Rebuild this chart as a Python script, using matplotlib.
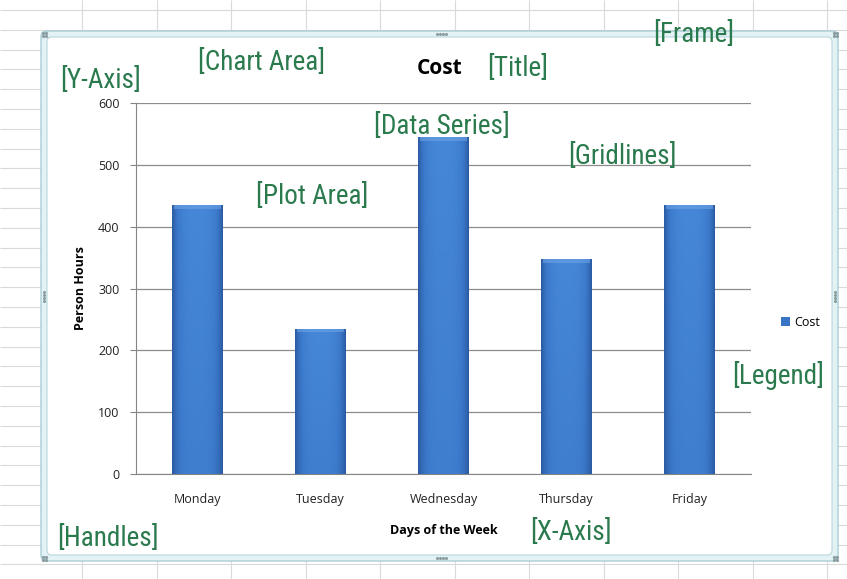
import numpy as np
import matplotlib
matplotlib.use('Agg')
import matplotlib.pyplot as plt
from matplotlib.patches import FancyBboxPatch
from matplotlib.colors import LinearSegmentedColormap

days = ['Monday', 'Tuesday', 'Wednesday', 'Thursday', 'Friday']
cost = [435, 235, 545, 347, 435]
yticks = [0, 100, 200, 300, 400, 500, 600]

# callout labels (text, x px, y px)
notes = [('[Frame]', 694, 33), ('[Chart Area]', 262, 61), ('[Title]', 518, 67),
         ('[Y-Axis]', 101, 78), ('[Data Series]', 442, 124), ('[Gridlines]', 622, 154),
         ('[Plot Area]', 312, 195), ('[Legend]', 778, 373), ('[Handles]', 108, 537),
         ('[X-Axis]', 571, 530)]

W, H = 847, 579
fig = plt.figure(figsize=(W / 100, H / 100), dpi=100)
fig.patch.set_facecolor('white')

# spreadsheet background + chart frame, in pixel coords
bg = fig.add_axes([0, 0, 1, 1], zorder=0)
bg.set_xlim(0, W)
bg.set_ylim(H, 0)
bg.axis('off')
bg.hlines(np.arange(10, H, 19.8), 0, W, color='#dadada', lw=0.8, zorder=1)
bg.vlines(np.arange(82, W, 74.5), 0, H, color='#dadada', lw=0.8, zorder=1)
bg.add_patch(FancyBboxPatch((41, 31), 797, 530, boxstyle='round,pad=0,rounding_size=6',
                            fc='#e3f2f4', ec='#a9cfd6', lw=1.0, zorder=2))
bg.add_patch(FancyBboxPatch((47, 37), 785, 518, boxstyle='round,pad=0,rounding_size=5',
                            fc='white', ec='#b8d6dc', lw=0.8, zorder=3))
# handles
for cx, cy in [(44, 34), (835, 34), (44, 558), (835, 558)]:
    bg.plot([cx - 1.5, cx + 1.5, cx - 1.5, cx + 1.5], [cy - 1.5, cy - 1.5, cy + 1.5, cy + 1.5],
            ls='none', marker='o', ms=1.3, color='#8a9ea2', zorder=4)
for cx, cy, horiz in [(441, 34, True), (441, 558, True), (44, 296, False), (835, 296, False)]:
    off = np.array([-4.5, -1.5, 1.5, 4.5])
    xs = cx + off if horiz else np.full(4, cx)
    ys = np.full(4, cy) if horiz else cy + off
    bg.plot(xs, ys, ls='none', marker='o', ms=1.2, color='#8a9ea2', zorder=4)

# plot area
ax = fig.add_axes([136 / W, 1 - 474 / H, 615 / W, 371 / H], zorder=1)
ax.set_facecolor('none')
x = np.arange(len(days))
bars = ax.bar(x, cost, width=0.41, color='#3a74c4', label='Cost', zorder=3)

cmap = LinearSegmentedColormap.from_list('xl', ['#2b5ca3', '#3b78c9', '#4687d8'])
prof = 1 - np.abs(np.linspace(-1, 1, 60)) ** 3
vert = np.linspace(1.0, 0.7, 100)[:, None]
grad = prof[None, :] * vert
for b in bars:
    bx, by = b.get_x(), b.get_y()
    im = ax.imshow(grad, cmap=cmap, vmin=0, vmax=1, aspect='auto', zorder=4,
                   extent=[bx, bx + b.get_width(), by, by + b.get_height()])
    im.set_clip_path(b)
    # light bevel along the top
    ax.bar(bx + b.get_width() / 2, 6, bottom=b.get_height() - 6, width=b.get_width() * 0.92,
           color='#6da3e6', alpha=0.6, zorder=5, lw=0)

ax.set_xlim(-0.5, len(days) - 0.5)
ax.set_ylim(0, 600)
ax.set_yticks(yticks)
ax.set_xticks(x)
ax.set_xticklabels(days)
ax.yaxis.grid(True, color='#8c8c8c', lw=0.9, zorder=0)
for s in ['top', 'right']:
    ax.spines[s].set_visible(False)
ax.spines['left'].set_color('#868686')
ax.spines['bottom'].set_color('#868686')
ax.tick_params(axis='y', length=4, color='#868686', pad=8, labelsize=9, labelcolor='#222222')
ax.tick_params(axis='x', length=0, pad=14, labelsize=9, labelcolor='#222222')
for t in ax.get_xticklabels() + ax.get_yticklabels():
    t.set_fontfamily('Open Sans')

ax.set_ylabel('Person Hours', fontsize=9, fontweight='bold', family='Open Sans')
ax.yaxis.set_label_coords(-0.08, 0.5)
ax.set_xlabel('Days of the Week', fontsize=9, fontweight='bold', family='Open Sans')
ax.xaxis.set_label_coords(0.5, -0.135)

fig.text(440 / W, 1 - 68 / H, 'Cost', ha='center', va='center', fontsize=15,
         fontweight='bold', family='Open Sans')

leg = fig.legend(handles=[bars], labels=['Cost'], loc='center left',
                 bbox_to_anchor=(770 / W, 1 - 322 / H), frameon=False,
                 handlelength=0.7, handleheight=0.7, handletextpad=0.3,
                 prop={'family': 'Open Sans', 'size': 9})

for txt, px, py in notes:
    fig.text(px / W, 1 - (py + 2) / H, txt, ha='center', va='center', fontsize=19.5,
             color='#2a7a4e', family=['Liberation Sans Narrow', 'Roboto Condensed', 'Roboto'],
             zorder=5)

fig.savefig('out.png', dpi=100)
